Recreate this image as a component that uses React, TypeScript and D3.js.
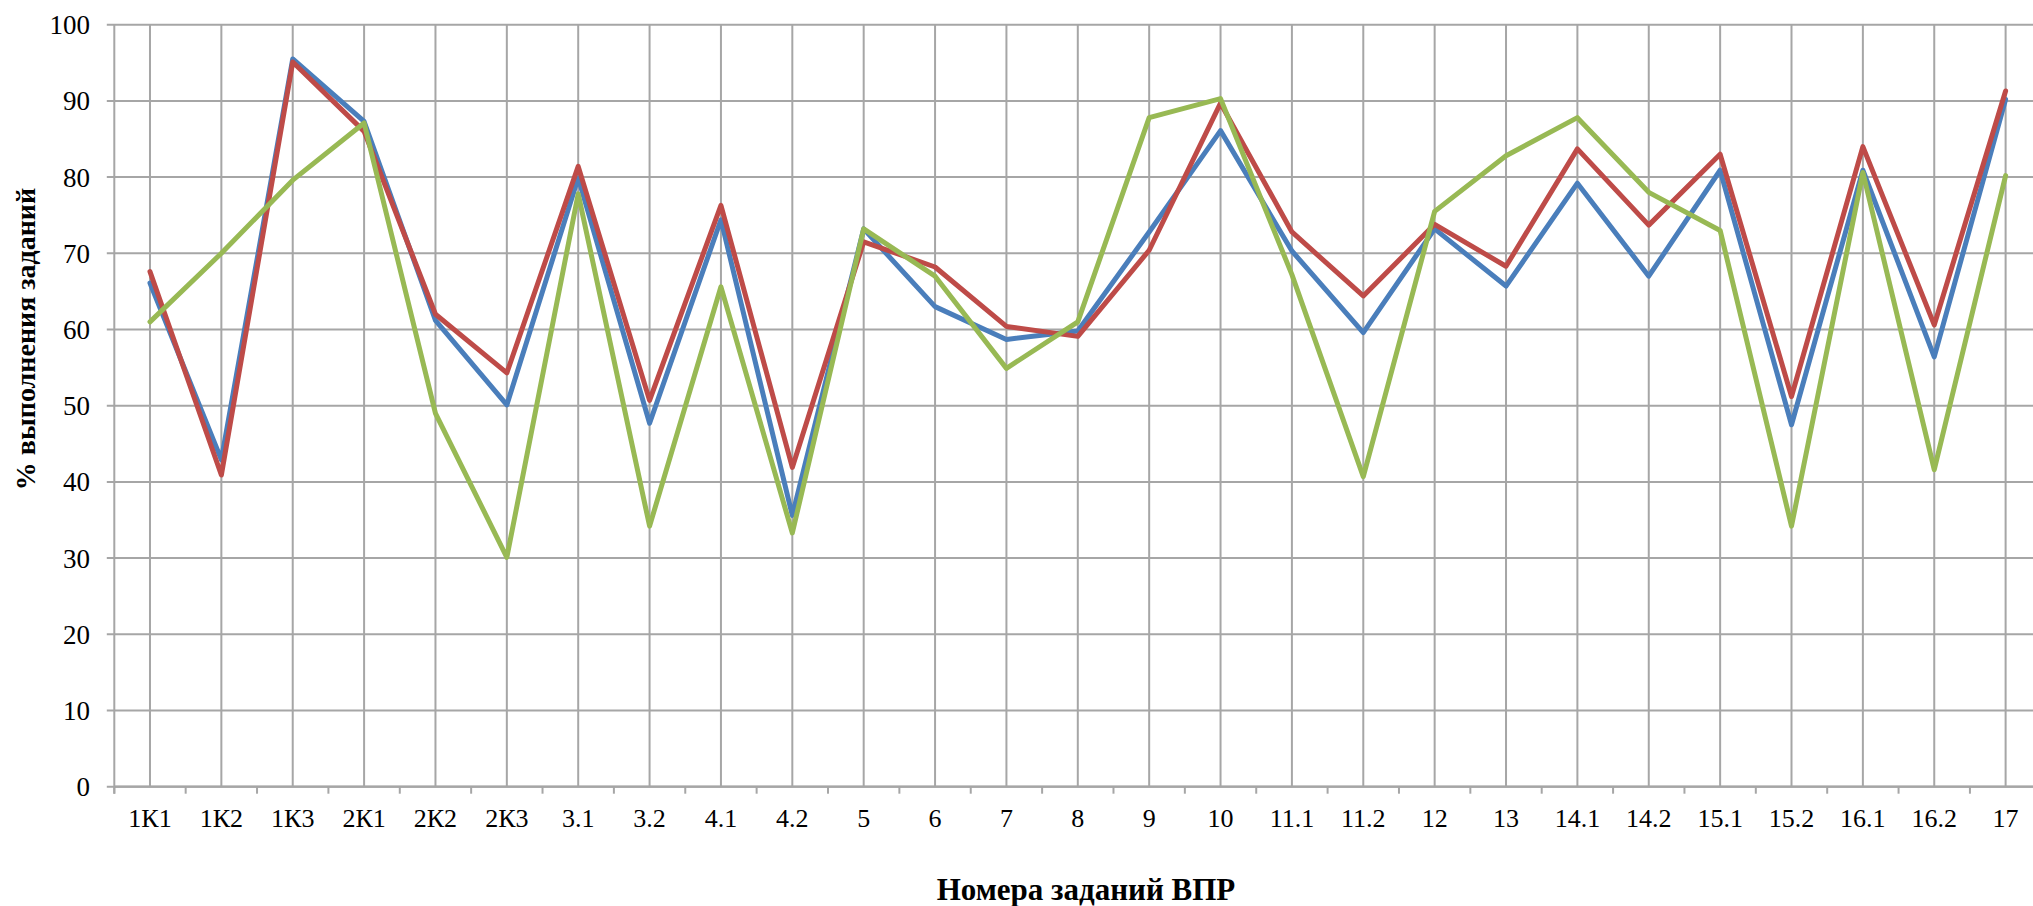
import React from "react";
import * as d3 from "d3";

const categories = ["1К1","1К2","1К3","2К1","2К2","2К3","3.1","3.2","4.1","4.2","5","6","7","8","9","10","11.1","11.2","12","13","14.1","14.2","15.1","15.2","16.1","16.2","17"];
const seriesBlue = [66.1, 42.9, 95.5, 87.3, 61.2, 50.1, 79.9, 47.7, 74.4, 35.6, 73.2, 63.0, 58.7, 59.8, 72.8, 86.1, 70.3, 59.6, 73.2, 65.7, 79.2, 67.0, 80.9, 47.5, 80.9, 56.4, 90.2];
const seriesRed = [67.6, 40.9, 95.1, 86.0, 62.0, 54.3, 81.4, 50.7, 76.3, 41.9, 71.5, 68.2, 60.4, 59.1, 70.4, 89.7, 72.8, 64.4, 73.8, 68.3, 83.7, 73.7, 83.0, 51.2, 84.0, 60.6, 91.3];
const seriesGreen = [61.0, 70.0, 79.6, 87.1, 49.0, 30.1, 77.8, 34.2, 65.6, 33.3, 73.2, 67.0, 54.9, 61.0, 87.8, 90.3, 67.2, 40.7, 75.5, 82.8, 87.8, 78.0, 73.0, 34.2, 80.6, 41.6, 80.2];
const yTicks = [0, 10, 20, 30, 40, 50, 60, 70, 80, 90, 100];
const xTitle = "Номера заданий ВПР";
const yTitle = "% выполнения заданий";

const series = [
  { name: "s1", values: seriesBlue, color: "#4A7EBB" },
  { name: "s2", values: seriesRed, color: "#BE4B48" },
  { name: "s3", values: seriesGreen, color: "#98B954" },
];

const W = 2033;
const H = 906;
const left = 114.3;
const right = 2041.3;
const top = 24.7;
const bottom = 786.7;
const gridColor = "#A6A6A6";
const font = '"Liberation Serif", "Times New Roman", Tinos, "DejaVu Serif", serif';

export default function App() {
  const x = d3.scaleBand<string>().domain(categories).range([left, right]).paddingInner(0).paddingOuter(0);
  const y = d3.scaleLinear().domain([0, 100]).range([bottom, top]);
  const cx = (c: string) => (x(c) as number) + x.bandwidth() / 2;
  const line = d3
    .line<number>()
    .x((_, i) => cx(categories[i]))
    .y((v) => y(v));
  const boundaries = categories.map((c) => x(c) as number).concat([right]);
  const textStyle: React.CSSProperties = { fontFamily: font };

  return (
    <svg width={W} height={H} style={{ position: "absolute", left: 0, top: 0, background: "#fff" }}>
      {yTicks.map((t) => (
        <line key={"h" + t} x1={left - 7.5} x2={right} y1={y(t)} y2={y(t)} stroke={gridColor} strokeWidth={2} />
      ))}
      {categories.map((c) => (
        <line key={"v" + c} x1={cx(c)} x2={cx(c)} y1={top} y2={bottom} stroke={gridColor} strokeWidth={2} />
      ))}
      <line x1={left} x2={left} y1={top} y2={bottom + 7} stroke={gridColor} strokeWidth={2} />
      <line x1={left} x2={right} y1={bottom} y2={bottom} stroke={gridColor} strokeWidth={2.2} />
      {boundaries.map((b, i) => (
        <line key={"t" + i} x1={b} x2={b} y1={bottom} y2={bottom + 7} stroke={gridColor} strokeWidth={2} />
      ))}
      {yTicks.map((t) => (
        <text key={"yl" + t} x={90} y={y(t)} dy="0.35em" textAnchor="end" style={textStyle} fontSize={27} fill="#000">
          {t}
        </text>
      ))}
      {categories.map((c) => (
        <text key={"xl" + c} x={cx(c)} y={827} textAnchor="middle" style={textStyle} fontSize={26} fill="#000">
          {c}
        </text>
      ))}
      {series.map((s) => (
        <path
          key={s.name}
          d={line(s.values) as string}
          fill="none"
          stroke={s.color}
          strokeWidth={5}
          strokeLinejoin="round"
          strokeLinecap="round"
        />
      ))}
      <text x={1086} y={900} textAnchor="middle" style={textStyle} fontWeight="bold" fontSize={31} fill="#000">
        {xTitle}
      </text>
      <text
        transform={`translate(35, 339) rotate(-90)`}
        textAnchor="middle"
        style={textStyle}
        fontWeight="bold"
        fontSize={28}
        fill="#000"
      >
        {yTitle}
      </text>
    </svg>
  );
}
